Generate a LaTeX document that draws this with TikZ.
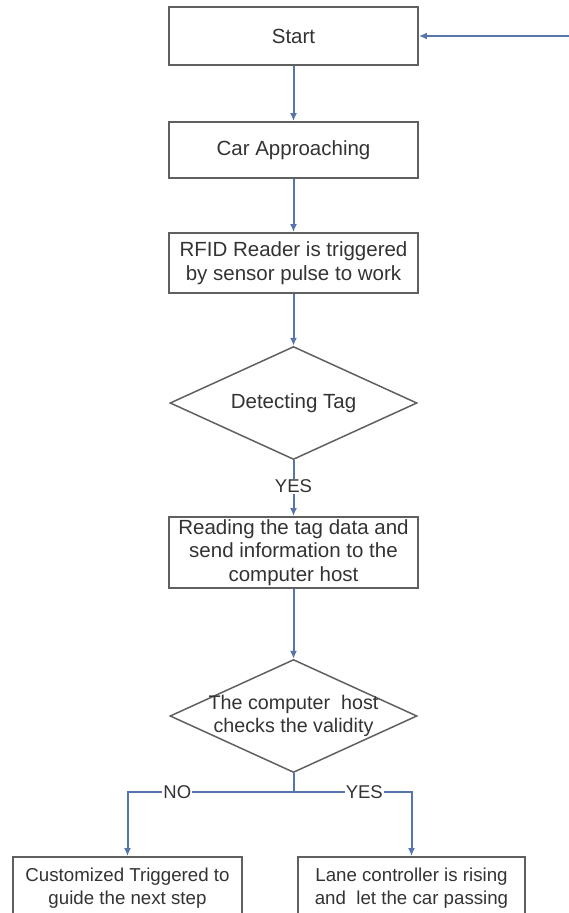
\documentclass[tikz,border=0pt]{standalone}
\usepackage{fontspec}
\setmainfont{Liberation Sans}
\usetikzlibrary{shapes.geometric,arrows.meta}

\definecolor{flowblue}{HTML}{5675AC}
\definecolor{boxgray}{HTML}{606060}
\definecolor{inkgray}{HTML}{333333}

\tikzstyle{stepbox}=[draw=boxgray, line width=1.9pt, text=inkgray, align=center,
  inner sep=0pt, minimum width=249pt, font=\fontsize{20.5}{23.5}\selectfont]
\tikzstyle{endbox}=[stepbox, font=\fontsize{18.7}{23.5}\selectfont]
\tikzstyle{decide}=[diamond, draw=boxgray, line width=1.5pt, inner sep=0pt,
  minimum width=247pt, minimum height=113pt]
\tikzstyle{dep}=[-{Latex[length=8pt,width=7pt]}, draw=flowblue, line width=2pt]
\tikzstyle{answer}=[fill=white, inner sep=1pt, text=inkgray,
  font=\fontsize{18.5}{20}\selectfont]

\begin{document}
\begin{tikzpicture}[x=1pt, y=-1pt]
      \clip (0,0) rectangle (569,913);
      \node[stepbox, minimum height=58pt] (start) at (293.5, 36) {Start};
      \node[stepbox, minimum height=56pt] (car) at (293.5, 150) {Car Approaching};
      \node[stepbox, minimum height=60pt] (rfid) at (293.5, 263)
        {RFID Reader is triggered\\by sensor pulse to work};
      \node[decide, label={[text=inkgray, font=\fontsize{20.5}{23.5}\selectfont]center:Detecting Tag}]
        (detect) at (293.5, 403) {};
      \node[stepbox, minimum height=71pt] (read) at (293.5, 552.5)
        {Reading the tag data and\\send information to the\\computer host};
      \node[decide, label={[text=inkgray, align=center, font=\fontsize{19.7}{23}\selectfont]center:The computer\ \ host\\checks the validity}]
        (check) at (293.5, 716) {};
      \node[endbox, minimum width=229pt, minimum height=62pt] (custom) at (127.5, 888)
        {Customized Triggered to\\guide the next step};
      \node[endbox, minimum width=227pt, minimum height=62pt] (lane) at (411.5, 888)
        {Lane controller is rising\\and\ \ let the car passing};

      \coordinate (back) at (569, 36);
      \coordinate (split) at (293.5, 792);

      \foreach \a/\b in {start/car, car/rfid, rfid/detect, read/check} {%
        \draw[dep] (\a) -- (\b);
      }
      \draw[dep] (back) -- (start);
      \draw[dep] (detect) -- node[answer, pos=0.47] {YES} (read);
      \draw[draw=flowblue, line width=2pt] (check) -- (split);
      \draw[dep] (split) -| node[answer, pos=0.35] {NO} (custom);
      \draw[dep] (split) -| node[answer, pos=0.30] {YES} (lane);
    \end{tikzpicture}
\end{document}
